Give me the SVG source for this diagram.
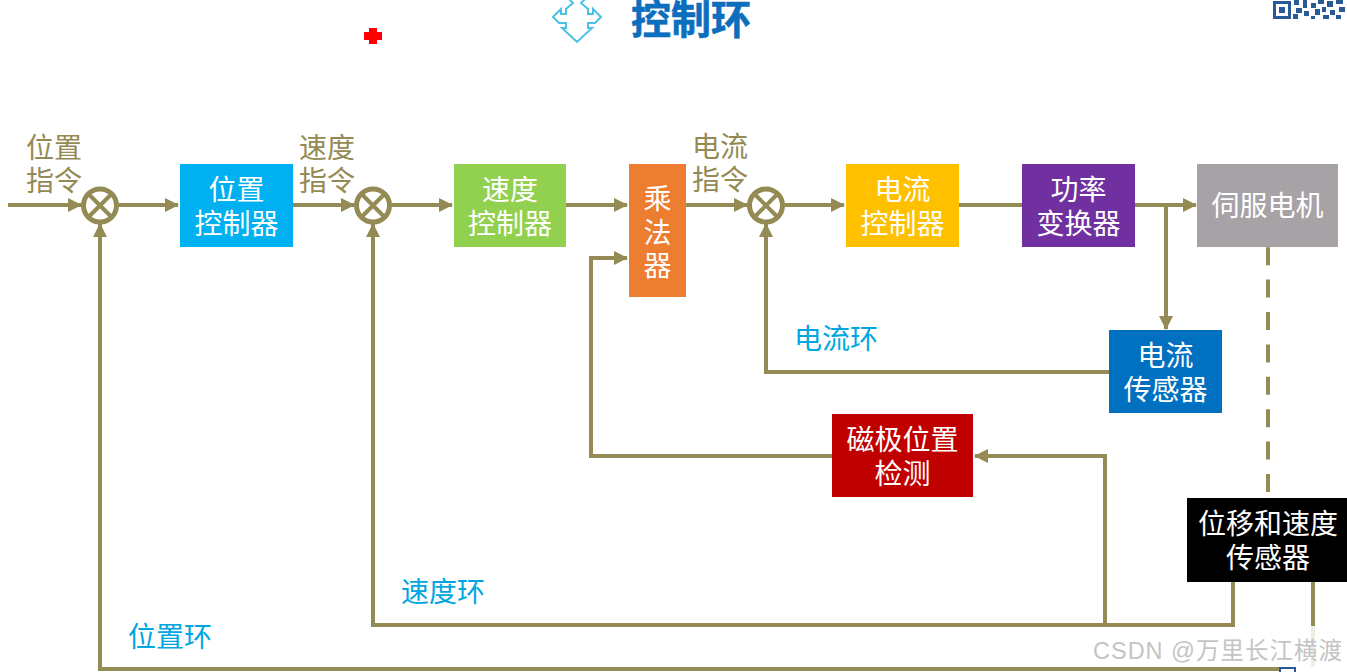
<svg xmlns="http://www.w3.org/2000/svg" width="1347" height="672" viewBox="0 0 1347 672">
<style>
text{font-family:"Liberation Sans","Noto Sans CJK SC",sans-serif;text-anchor:middle}
.n{font-size:28px;fill:#fff}
.l{font-size:28px;fill:#948a54}
.c{font-size:28px;fill:#00a6e0}
.w{fill:none;stroke:#948a54;stroke-width:4}
.s{fill:#fff;stroke:#948a54;stroke-width:5}
.x{stroke:#948a54;stroke-width:4}
.q{fill:#2a5a96}
</style>
<defs>
<marker id="a" markerUnits="userSpaceOnUse" markerWidth="14" markerHeight="14" refX="13" refY="7" orient="auto"><path d="M0 0L14 7L0 14Z" fill="#948a54"/></marker>
</defs>
<rect width="1347" height="672" fill="#fff"/>
<g id="title">
<text x="691" y="34" style="font-size:40px;font-weight:700;fill:#0b6fbd;stroke:#0b6fbd;stroke-width:.6">控制环</text>
<path d="M569 -1L573 3L566 9L566 14L561 14L561 9L553 17L559 23L566 23L566 28L562 28L577 42L592 28L588 28L588 23L595 23L601 17L593 9L593 14L588 14L588 9L581 3L585 -1" fill="none" stroke="#4cc0e6" stroke-width="2"/>
</g>
<path id="cross" d="M369 28h8v4h5v8h-5v4h-8v-4h-5v-8h5z" fill="#f00"/>
<g id="qr">
<path class="q" fill-rule="evenodd" d="M1273 1h18v18h-18zM1276 4v12h12v-12z"/>
<rect class="q" x="1279" y="7" width="6" height="6"/>
<path class="q" d="M1294 0h5v5h-5zM1303 0h4v8h-4zM1296 8h6v5h-6zM1293 14h5v5h-5zM1304 11h5v5h-5zM1311 3h5v5h-5zM1318 0h6v4h-6zM1315 9h5v6h-5zM1322 7h4v5h-4zM1327 1h6v6h-6zM1336 0h7v4h-7zM1330 10h5v5h-5zM1339 7h6v5h-6zM1323 15h6v4h-6zM1311 16h4v3h-4zM1336 15h5v4h-5z"/>
</g>
<g id="connectors">
<path class="w" marker-end="url(#a)" d="M8 205H81"/>
<path class="w" marker-end="url(#a)" d="M119 205H178"/>
<path class="w" marker-end="url(#a)" d="M293 205H354"/>
<path class="w" marker-end="url(#a)" d="M392 205H452"/>
<path class="w" marker-end="url(#a)" d="M566 205H627"/>
<path class="w" marker-end="url(#a)" d="M686 205H747"/>
<path class="w" marker-end="url(#a)" d="M785 205H844"/>
<path class="w" d="M959 205H1022"/>
<path class="w" marker-end="url(#a)" d="M1135 205H1196"/>
<path class="w" marker-end="url(#a)" d="M1166 205V329"/>
<path class="w" marker-end="url(#a)" d="M1109 372H766V224"/>
<path class="w" marker-end="url(#a)" d="M832 456H591V258H627"/>
<path class="w" marker-end="url(#a)" d="M1105 625V456H975"/>
<path class="w" marker-end="url(#a)" d="M1233 582V625H373V224"/>
<path class="w" marker-end="url(#a)" d="M1313 582V669H100V224"/>
<path class="w" stroke-dasharray="18 14.400" d="M1268 247.200V492"/>
</g>
<g id="sum1"><circle class="s" cx="100" cy="205.500" r="16.500"/><path class="x" d="M88 193.500L112 217.500M112 193.500L88 217.500"/></g>
<g id="sum2"><circle class="s" cx="373" cy="205.500" r="16.500"/><path class="x" d="M361 193.500L385 217.500M385 193.500L361 217.500"/></g>
<g id="sum3"><circle class="s" cx="766" cy="205.500" r="16.500"/><path class="x" d="M754 193.500L778 217.500M778 193.500L754 217.500"/></g>
<g id="pos-ctrl"><rect x="180" y="164" width="113" height="83" fill="#00b0f0"/><text class="n" x="236.500" y="200">位置</text><text class="n" x="236.500" y="234">控制器</text></g>
<g id="vel-ctrl"><rect x="454" y="164" width="112" height="83" fill="#92d050"/><text class="n" x="510" y="200">速度</text><text class="n" x="510" y="234">控制器</text></g>
<g id="mult"><rect x="629" y="164" width="57" height="133" fill="#ed7d31"/><text class="n" x="657.500" y="209">乘</text><text class="n" x="657.500" y="243">法</text><text class="n" x="657.500" y="276">器</text></g>
<g id="cur-ctrl"><rect x="846" y="164" width="113" height="83" fill="#ffc000"/><text class="n" x="902.500" y="200">电流</text><text class="n" x="902.500" y="234">控制器</text></g>
<g id="power"><rect x="1022" y="164" width="113" height="83" fill="#7030a0"/><text class="n" x="1078.500" y="200">功率</text><text class="n" x="1078.500" y="234">变换器</text></g>
<g id="motor"><rect x="1197" y="164" width="141" height="83" fill="#a6a2a6"/><text class="n" x="1267.500" y="216">伺服电机</text></g>
<g id="cur-sensor"><rect x="1109" y="330" width="113" height="83" fill="#0070c0"/><text class="n" x="1165.500" y="366">电流</text><text class="n" x="1165.500" y="400">传感器</text></g>
<g id="pole"><rect x="832" y="414" width="141" height="83" fill="#c00000"/><text class="n" x="902.500" y="450">磁极位置</text><text class="n" x="902.500" y="484">检测</text></g>
<g id="pos-sensor"><rect x="1187" y="498" width="160" height="84" fill="#000"/><text class="n" x="1268" y="534">位移和速度</text><text class="n" x="1268" y="568">传感器</text></g>
<g id="overlay">
<path d="M1295 616L1306 626H1337L1347 616V672H1296V634Q1296 628 1302 626Z" fill="#fff" fill-opacity=".85"/>
<rect x="1280" y="666" width="67" height="6" fill="#fff"/>
<path d="M1280 672v-4h15v4" fill="none" stroke="#2a5a96" stroke-width="2"/>
</g>
<g id="labels">
<text class="l" x="54" y="158">位置</text><text class="l" x="54" y="191">指令</text>
<text class="l" x="327" y="158">速度</text><text class="l" x="327" y="191">指令</text>
<text class="l" x="720" y="157">电流</text><text class="l" x="720" y="190">指令</text>
<text class="c" x="836" y="349">电流环</text>
<text class="c" x="443" y="602">速度环</text>
<text class="c" x="170" y="647">位置环</text>
<text x="1218" y="659" style="font-size:23.500px;fill:#c4c4c4;letter-spacing:1px">CSDN @万里长江横渡</text>
</g>
</svg>
